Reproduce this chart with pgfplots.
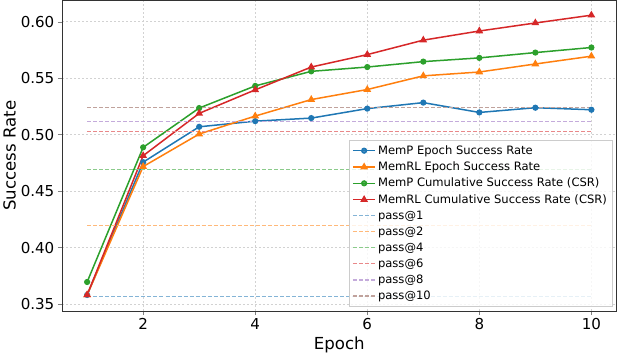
\documentclass[border=0pt]{standalone}
\usepackage{pgfplots}
\pgfplotsset{compat=1.18}
\usepackage{fontspec}
\setmainfont{DejaVu Sans}

\definecolor{tabblue}{RGB}{31,119,180}
\definecolor{taborange}{RGB}{255,127,14}
\definecolor{tabgreen}{RGB}{44,160,44}
\definecolor{tabred}{RGB}{214,39,40}
\definecolor{tabpurple}{RGB}{148,103,189}
\definecolor{tabbrown}{RGB}{140,86,75}
\definecolor{lightgray204}{RGB}{204,204,204}

\begin{document}
\begin{tikzpicture}
\begin{axis}[
scale only axis,
width=550bp, height=308bp,
xmin=0.55, xmax=10.45,
ymin=0.3438, ymax=0.6188,
xtick={2,4,6,8,10},
ytick={0.35,0.40,0.45,0.50,0.55,0.60},
yticklabel style={/pgf/number format/.cd,fixed,fixed zerofill,precision=2},
/pgf/number format/assume math mode=true,
tick label style={font=\fontsize{15}{17}\selectfont},
label style={font=\fontsize{16.5}{19}\selectfont},
xlabel={Epoch},
ylabel={Success Rate},
ylabel style={yshift=-2pt},
tick align=outside,
tick pos=left,
major tick length=4bp,
xmajorgrids, ymajorgrids,
grid style={gray!35, dash pattern=on 2pt off 2pt, line width=0.6pt},
axis line style={black!80, line width=0.8pt},
legend cell align={left},
legend style={
  font=\fontsize{11.5}{13}\selectfont,
  at={(0.992,0.015)}, anchor=south east,
  draw=lightgray204, fill=white, fill opacity=0.8, text opacity=1,
  row sep=2pt, inner sep=3pt
},
legend image code/.code={\draw[mark repeat=2,mark phase=2] plot coordinates {(0cm,0cm) (0.39cm,0cm) (0.78cm,0cm)};},
pass/.style={line width=1.2pt, dash pattern=on 4pt off 2pt},
]
\addplot [line width=1.5pt, tabblue, mark=*, mark size=2.3pt, mark options={solid}]
table {%
1 0.358
2 0.4756
3 0.5069
4 0.5119
5 0.5146
6 0.5230
7 0.5283
8 0.5196
9 0.5238
10 0.5220
};
\addlegendentry{MemP Epoch Success Rate}
\addplot [line width=1.5pt, taborange, mark=triangle*, mark size=3pt, mark options={solid}]
table {%
1 0.358
2 0.4717
3 0.5005
4 0.5164
5 0.5310
6 0.5399
7 0.5520
8 0.5554
9 0.5625
10 0.5694
};
\addlegendentry{MemRL Epoch Success Rate}
\addplot [line width=1.5pt, tabgreen, mark=*, mark size=2.3pt, mark options={solid}]
table {%
1 0.3695
2 0.4887
3 0.5235
4 0.5431
5 0.5560
6 0.5598
7 0.5646
8 0.5679
9 0.5726
10 0.5771
};
\addlegendentry{MemP Cumulative Success Rate (CSR)}
\addplot [line width=1.5pt, tabred, mark=triangle*, mark size=3pt, mark options={solid}]
table {%
1 0.358
2 0.4813
3 0.5188
4 0.5396
5 0.5598
6 0.5708
7 0.5836
8 0.5917
9 0.5988
10 0.6057
};
\addlegendentry{MemRL Cumulative Success Rate (CSR)}
\addplot [pass, tabblue!55!white] table {%
1 0.3566
10 0.3566
};
\addlegendentry{pass@1}
\addplot [pass, taborange!55!white] table {%
1 0.4196
10 0.4196
};
\addlegendentry{pass@2}
\addplot [pass, tabgreen!55!white] table {%
1 0.4690
10 0.4690
};
\addlegendentry{pass@4}
\addplot [pass, tabred!55!white] table {%
1 0.5024
10 0.5024
};
\addlegendentry{pass@6}
\addplot [pass, tabpurple!55!white] table {%
1 0.5119
10 0.5119
};
\addlegendentry{pass@8}
\addplot [pass, tabbrown!55!white] table {%
1 0.5238
10 0.5238
};
\addlegendentry{pass@10}
\end{axis}
\end{tikzpicture}
\end{document}
